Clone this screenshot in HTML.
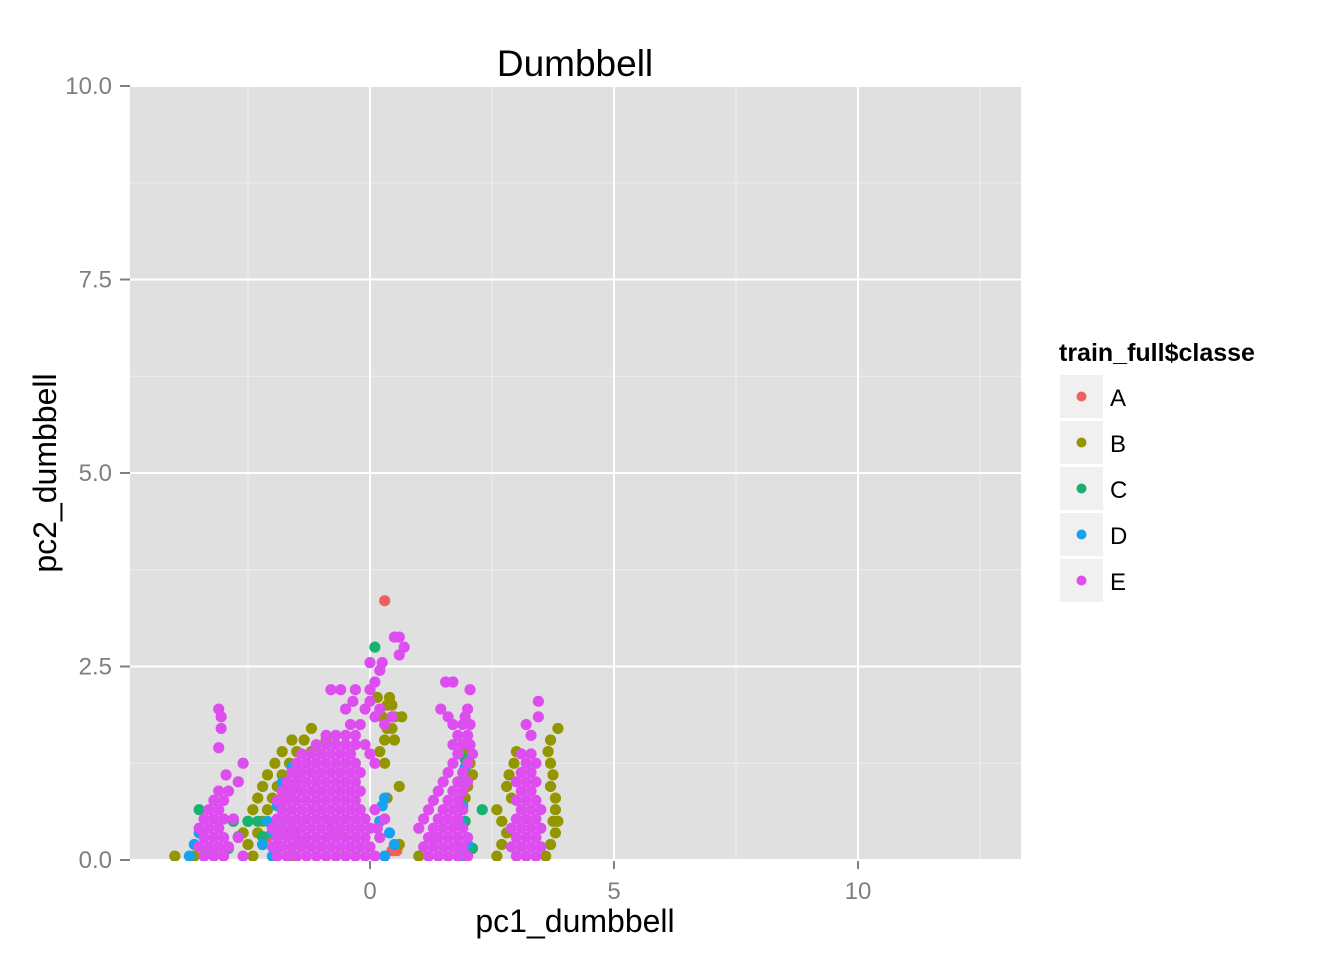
<!DOCTYPE html>
<html><head><meta charset="utf-8"><style>
html,body{margin:0;padding:0;background:#fff}
svg text{font-family:"Liberation Sans",Arial,sans-serif}
</style></head><body>
<svg id="chart" width="1344" height="960" xmlns="http://www.w3.org/2000/svg">
<defs><clipPath id="pc"><rect x="130" y="86" width="891" height="775"/></clipPath></defs>
<rect x="0" y="0" width="1344" height="960" fill="#fff"/>
<rect x="130" y="86" width="891" height="775" fill="#e0e0e0"/>
<g id="grid"></g>
<g id="pts" clip-path="url(#pc)"></g>
<g id="axes"></g>
<text x="575" y="76" font-size="37" text-anchor="middle">Dumbbell</text>
<text x="575" y="932" font-size="32" text-anchor="middle">pc1_dumbbell</text>
<text transform="translate(56,473) rotate(-90)" font-size="32" text-anchor="middle">pc2_dumbbell</text>
<g id="legend">
<text x="1059" y="361" font-size="25" font-weight="bold">train_full$classe</text>
</g>
</svg>
<script>
const xTicks=[0,5,10];
const xMinor=[-2.5,2.5,7.5,12.5];
const yTicks=[0,2.5,5,7.5,10];
const yTickLabels=["0.0","2.5","5.0","7.5","10.0"];
const yMinor=[1.25,3.75,6.25,8.75];
const classes=["A","B","C","D","E"];
const colors=["#F3605A","#949600","#17B26F","#16A2F0","#DE4DEF"];
// rows: [y, [x values]]
const rowsA=[[3.35,[0.3]],[0.12,[0.45,0.55]],[0.3,[-0.7,-2.1]]];
const rowsB=[[0.05,[-4.0,-3.6,-2.4,-1.6,1.0,2.6,3.6]],[0.2,[-2.5,-2.2,-1.9,-1.4,0.6,2.7,3.7]],[0.35,[-2.6,-2.3,-2.0,-1.7,2.8,3.8]],[0.5,[-2.5,-2.2,-1.9,-1.6,2.7,3.75,3.85]],[0.65,[-2.4,-2.1,-1.8,2.6,3.8]],[0.8,[-2.3,-2.0,-1.7,1.95,2.9,3.8,0.35]],[0.95,[-2.2,-1.9,-1.6,2.0,2.8,3.7,0.6]],[1.1,[-2.1,-1.8,-1.5,2.1,2.85,3.75]],[1.25,[-1.95,-1.65,-1.3,2.05,2.95,3.7,0.3]],[1.4,[-1.8,-1.5,-1.2,1.95,3.0,3.65,0.2]],[1.55,[-1.6,-1.35,-0.9,3.7,0.3,0.5]],[1.7,[-1.2,0.45,3.85,0.35]],[1.85,[0.5,0.65,0.25]],[2.0,[0.45,0.35]],[2.1,[0.4,0.15]]];
const rowsC=[[0.65,[-3.5,2.3]],[0.5,[-2.8,-2.5,-2.3,1.95]],[0.3,[-2.7,-2.2,-1.9,1.3]],[0.15,[-3.3,-2.9,1.8,2.1]],[2.75,[0.1]],[1.3,[1.95]],[1.0,[1.9]]];
const rowsD=[[0.05,[-3.7,-2.0,-1.7,0.3,1.9]],[0.2,[-3.6,-2.2,-1.9,0.5,2.0]],[0.35,[-3.5,-2.0,-1.6,0.4]],[0.5,[-2.1,-1.8,0.2,1.85]],[0.7,[-1.9,0.25,1.9]],[0.8,[0.3]],[1.2,[-1.6,1.95]],[1.0,[-1.8]]];
const rowsE=[
[0.05,[-3.4,-3.2,-3.0,-2.6,-1.9,-1.7,-1.5,-1.3,-1.1,-0.9,-0.7,-0.5,-0.3,-0.1,0.1,1.2,1.4,1.6,1.8,2.0,3.0,3.2,3.4]],
[0.17,[-3.5,-3.3,-3.1,-2.9,-2.0,-1.8,-1.6,-1.4,-1.2,-1.0,-0.8,-0.6,-0.4,-0.2,0.0,1.1,1.3,1.5,1.7,1.9,2.9,3.1,3.3,3.5]],
[0.29,[-3.4,-3.2,-3.0,-2.7,-1.9,-1.7,-1.5,-1.3,-1.1,-0.9,-0.7,-0.5,-0.3,-0.1,0.2,1.2,1.4,1.6,1.8,2.0,3.0,3.2,3.4]],
[0.41,[-3.5,-3.3,-3.1,-2.0,-1.8,-1.6,-1.4,-1.2,-1.0,-0.8,-0.6,-0.4,-0.2,0.0,0.15,1.0,1.3,1.5,1.7,1.9,2.9,3.1,3.3,3.5]],
[0.53,[-3.4,-3.2,-3.0,-2.8,-1.9,-1.7,-1.5,-1.3,-1.1,-0.9,-0.7,-0.5,-0.3,-0.1,0.3,1.1,1.4,1.6,1.8,3.0,3.2,3.4]],
[0.65,[-3.3,-3.1,-1.8,-1.6,-1.4,-1.2,-1.0,-0.8,-0.6,-0.4,-0.2,0.1,1.2,1.5,1.7,1.9,3.1,3.3,3.5]],
[0.77,[-3.2,-3.0,-1.9,-1.7,-1.5,-1.3,-1.1,-0.9,-0.7,-0.5,-0.3,1.3,1.6,1.8,3.0,3.2,3.4]],
[0.89,[-3.1,-2.9,-1.8,-1.6,-1.4,-1.2,-1.0,-0.8,-0.6,-0.4,-0.2,1.4,1.7,1.9,3.1,3.3]],
[1.01,[-2.7,-1.7,-1.5,-1.3,-1.1,-0.9,-0.7,-0.5,-0.3,1.5,1.8,2.0,3.0,3.2,3.4]],
[1.13,[-1.6,-1.4,-1.2,-1.0,-0.8,-0.6,-0.4,-0.2,1.6,1.9,3.1,3.3]],
[1.25,[-2.6,-1.5,-1.3,-1.1,-0.9,-0.7,-0.5,-0.3,0.1,1.7,2.0,3.2,3.4]],
[1.37,[-1.4,-1.2,-1.0,-0.8,-0.6,-0.4,0.0,1.8,2.1,3.1,3.3]],
[1.49,[-1.1,-0.9,-0.7,-0.5,-0.3,-0.1,1.7,1.9,2.05]],
[1.61,[-0.9,-0.7,-0.5,-0.3,1.8,2.0,3.3]],
[1.75,[-0.4,-0.2,0.3,1.7,1.9,2.05,3.2]],
[1.85,[-3.05,0.1,0.45,1.6,1.95,3.45]],
[1.95,[-3.1,-0.5,-0.1,0.2,1.45,2.0]],
[2.05,[0.0,-0.35,3.45]],
[2.2,[-0.8,-0.6,-0.3,0.0,2.05]],
[2.3,[0.1,1.55,1.7]],
[2.45,[0.2]],[2.55,[0.0,0.25]],[2.65,[0.6]],[2.75,[0.7]],[2.88,[0.5,0.6]],
[1.45,[-3.1]],[1.7,[-3.05]],[1.1,[-2.95]]];
const rowsAll=[rowsA,rowsB,rowsC,rowsD,rowsE];

const NS="http://www.w3.org/2000/svg";
const X0=130,X1=1021,Y0=86,Y1=861;
function sx(v){return 370+v*48.8;}
function sy(v){return 860-v*77.4;}
function mk(tag,attrs,parent){const e=document.createElementNS(NS,tag);for(const k in attrs)e.setAttribute(k,attrs[k]);parent.appendChild(e);return e;}
const grid=document.getElementById('grid');
xMinor.forEach(v=>{const l=mk('line',{x1:sx(v),x2:sx(v),y1:Y0,y2:Y1,stroke:'#eeeeee','stroke-width':1},grid);

});
yMinor.forEach(v=>{const l=mk('line',{x1:X0,x2:X1,y1:sy(v),y2:sy(v),stroke:'#eeeeee','stroke-width':1},grid);

});
xTicks.forEach(v=>{const l=mk('line',{x1:sx(v),x2:sx(v),y1:Y0,y2:Y1,stroke:'#fff','stroke-width':2},grid);

});
yTicks.forEach(v=>{const l=mk('line',{x1:X0,x2:X1,y1:sy(v),y2:sy(v),stroke:'#fff','stroke-width':2},grid);

});
const axes=document.getElementById('axes');
xTicks.forEach(v=>{const t=mk('line',{x1:sx(v),x2:sx(v),y1:861,y2:869,stroke:'#7f7f7f','stroke-width':2},axes);


const tx=mk('text',{x:sx(v),y:899,'font-size':24,'text-anchor':'middle',fill:'#7f7f7f'},axes);tx.textContent=String(v);

});
yTicks.forEach((v,i)=>{const t=mk('line',{x1:120,x2:130,y1:sy(v),y2:sy(v),stroke:'#7f7f7f','stroke-width':2},axes);


const tx=mk('text',{x:112,y:sy(v)+8,'font-size':24,'text-anchor':'end',fill:'#7f7f7f'},axes);tx.textContent=yTickLabels[i];

});
const pts=document.getElementById('pts');
rowsAll.forEach((rows,ci)=>{rows.forEach(r=>{r[1].forEach(x=>{
const c=mk('circle',{cx:sx(x),cy:sy(r[0]),r:5.6,fill:colors[ci]},pts);

});});});
const lg=document.getElementById('legend');
classes.forEach((c,i)=>{const y=375+i*46;
const b=mk('rect',{x:1060,y:y,width:43,height:43,fill:'#f0f0f0'},lg);


const d=mk('circle',{cx:1081.5,cy:y+21.5,r:5,fill:colors[i]},lg);


const t=mk('text',{x:1110,y:y+31,'font-size':24},lg);t.textContent=c;

});
</script>
</body></html>
